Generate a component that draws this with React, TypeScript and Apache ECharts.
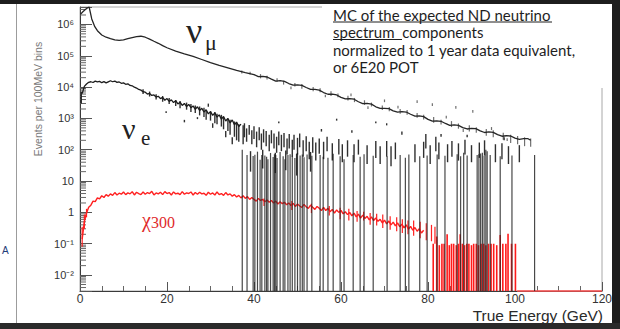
import React, { useEffect, useRef } from 'react';
import * as echarts from 'echarts';

// ---------------- axes ----------------
const X_TICKS = [0, 20, 40, 60, 80, 100, 120];
const Y_MIN = 0.0031;
const Y_MAX = 3.6e6;
const Y_DECADES = [-3, -2, -1, 0, 1, 2, 3, 4, 5, 6];
const Y_MINOR_MULT = [2, 3, 4, 5, 6, 7, 8, 9];

// ---------------- nu_mu (GeV, events) ----------------
const numuLine: [number, number][] = [
  [0.1, 2.1e6], [0.6, 2.5e6], [1.1, 2.9e6], [1.6, 3.3e6], [2.1, 3.6e6], [2.7, 1.5e6], [3.4, 8.5e5],
  [4.0, 6.3e5], [5, 4.6e5], [6, 3.9e5], [7, 3.5e5], [8, 3.2e5], [9, 3.1e5], [10, 3.2e5], [11, 3.5e5],
  [12, 3.8e5], [13, 4.1e5], [14, 4.2e5], [15, 3.9e5], [16, 3.4e5], [17, 2.9e5], [18, 2.5e5], [19, 2.1e5],
  [20, 1.8e5], [22, 1.4e5], [24, 1.15e5], [26, 9.5e4], [28, 7.6e4], [30, 6.0e4], [32, 4.9e4], [34, 4.1e4],
  [36, 3.4e4], [38, 2.9e4], [40, 2.5e4], [41, 2.15e4], [42, 2.2e4], [43, 2.1e4], [44, 1.8e4], [45, 1.55e4],
  [46, 1.6e4], [47, 1.52e4], [48, 1.3e4], [49, 1.16e4], [50, 1.18e4], [51, 1.14e4], [52, 9700], [53, 8400],
  [54, 8500], [55, 8000], [56, 6700], [57, 5900], [58, 6000], [59, 5600], [60, 4700], [61, 4200],
  [62, 4300], [63, 4100], [64, 3400], [65, 2950], [66, 3000], [67, 2850], [68, 2350], [69, 2080],
  [70, 2100], [71, 2050], [72, 1750], [73, 1580], [74, 1650], [75, 1600], [76, 1360], [77, 1190],
  [78, 1200], [79, 1140], [80, 930], [81, 820], [82, 840], [83, 810], [84, 690], [85, 600],
  [86, 620], [87, 600], [88, 510], [89, 460], [90, 480], [91, 470], [92, 400], [93, 355],
  [94, 370], [95, 360], [96, 305], [97, 270], [98, 280], [99, 275], [100, 235], [101, 215],
  [102, 225], [103, 225], [103.6, 200],
];
// error bars / scatter around the nu_mu tail: [GeV, low, high]
const numuBars: [number, number, number][] = [
  [37.2, 2.7e4, 3.4e4], [39.1, 2.5e4, 3.1e4], [41.5, 1.9e4, 2.6e4], [43.0, 1.75e4, 2.3e4], [45.3, 1.45e4, 1.9e4],
  [46.8, 1.2e4, 1.6e4], [49.4, 1.05e4, 1.35e4], [51.0, 8800, 1.25e4], [53.6, 7400, 1.0e4], [55.2, 6800, 9200],
  [57.7, 5200, 7300], [59.3, 4700, 6200], [61.6, 3700, 5300], [63.1, 3300, 4500], [65.4, 2700, 3800],
  [67.0, 2400, 3200], [69.5, 1850, 2600], [71.1, 1700, 2300], [73.6, 1400, 2000], [75.2, 1300, 1850],
  [77.5, 1050, 1500], [79.0, 920, 1300], [81.3, 730, 1120], [83.0, 640, 900], [85.4, 530, 820],
  [87.0, 470, 690], [89.5, 380, 600], [91.1, 350, 525], [93.4, 280, 460], [95.0, 250, 420],
  [97.3, 210, 350], [99.0, 165, 300], [100.6, 150, 275], [102.2, 130, 250], [103.6, 125, 230],
  [77.5, 3300, 3600], [81.0, 2650, 2900], [86.4, 2150, 2350], [90.3, 1600, 1750], [70.0, 3500, 3800],
  [48.5, 9000, 9800], [56.4, 5000, 5400], [62.3, 5400, 5900], [66.2, 2100, 2300], [73.1, 2200, 2400],
  [84.2, 1050, 1150], [88.1, 390, 430], [94.6, 450, 500], [98.2, 200, 220],
];

// ---------------- nu_e ----------------
const nueBinStart = 0.5;
const nueBinWidth = 0.5;
const nueValues = [
  6200, 10500, 12500, 14200, 14800, 14000, 15500, 14600, 15200, 13800,
  14900, 13600, 14700, 15900, 14800, 15600, 14100, 14600, 13200, 13600,
  12300, 12700, 11300, 11000, 9900, 9300, 8400, 8000, 7100, 6900,
  6000, 6300, 5400, 5600, 4800, 5100, 4300, 4700, 3800, 4300,
  3500, 3900, 3200, 3700, 2900, 3300, 2600, 3000, 2400, 2800,
  2200, 2500, 1950, 2350, 1800, 2100, 1600, 1900, 1400, 1650,
  1250, 1500, 1100, 1300, 950, 1150, 830, 1000, 720, 890,
  630, 760, 550, 660,
];
// error bars [GeV, low, high]
const nueBars: [number, number, number][] = [
  [0.3, 3000, 7000], [14.5, 6000, 8500], [16.0, 5000, 7200], [17.5, 4000, 5900], [19.0, 3400, 5200],
  [19.8, 1500, 1700], [20.5, 2900, 4500], [22.0, 2500, 3900], [23.0, 2100, 3600], [24.0, 750, 900],
  [24.5, 1900, 3200], [25.5, 1600, 2900], [26.5, 1500, 2600], [27.0, 950, 1100], [27.5, 1250, 2400],
  [28.5, 1100, 2200], [29.0, 900, 1800], [29.5, 2500, 2800], [30.0, 850, 1700], [30.5, 500, 700],
  [31.0, 700, 1600], [31.5, 650, 1400], [32.5, 550, 1300], [33.0, 450, 1100], [33.5, 250, 400],
  [34.0, 400, 1000], [34.5, 300, 900], [35.0, 150, 250], [35.5, 260, 800], [36.0, 200, 700],
  [36.5, 180, 650], [37.5, 150, 600],
  [37.8, 250, 700], [38.3, 180, 480], [38.9, 300, 620], [39.5, 150, 420], [40.0, 220, 560],
  [40.6, 120, 380], [41.2, 200, 520], [41.7, 100, 330], [42.2, 170, 450], [42.8, 130, 400],
  [43.5, 90, 300], [44.0, 160, 420], [44.6, 110, 330], [45.2, 80, 260], [45.7, 140, 380],
  [46.3, 90, 300], [46.9, 120, 340], [47.6, 70, 230], [48.1, 110, 320], [48.8, 60, 210],
  [49.2, 100, 300], [50.0, 70, 240], [50.5, 120, 330], [51.3, 60, 200], [52.0, 90, 270],
  [52.7, 50, 180], [53.5, 80, 250], [54.2, 45, 170], [55.0, 75, 230], [56.0, 50, 180],
  [56.8, 90, 260], [58.0, 45, 160], [59.5, 70, 220], [60.3, 40, 150], [61.5, 60, 200],
  [63.0, 40, 150], [64.0, 70, 210], [66.0, 35, 140], [68.0, 55, 190], [69.0, 35, 130],
  [70.5, 60, 190], [71.5, 30, 130], [72.5, 50, 170], [77.0, 40, 150], [79.0, 55, 180],
  [79.5, 110, 320], [80.5, 35, 140], [81.8, 90, 260], [82.5, 50, 170], [84.5, 40, 150],
  [85.5, 60, 190], [87.0, 45, 160], [88.5, 70, 210], [90.0, 40, 140], [91.8, 55, 170],
  [93.0, 65, 200], [95.5, 40, 150], [97.0, 50, 160], [98.5, 35, 130], [101.0, 40, 140],
  [45.7, 700, 800], [59.0, 850, 980], [68.0, 700, 800], [70.5, 600, 700], [55.5, 380, 460],
  [62.5, 350, 420], [74.0, 300, 380], [83.0, 260, 320], [89.0, 250, 300], [97.5, 200, 250],
  [39.2, 20, 90], [42.0, 25, 100], [44.9, 18, 80], [47.3, 22, 95], [49.8, 15, 75], [53.0, 20, 85],
];
// single-event bins whose error bar reaches zero: [GeV, high]
const nueLong: [number, number][] = [
  [37.3, 100], [38.4, 68], [39.8, 63], [40.2, 69], [40.8, 87], [41.4, 48], [41.8, 68], [42.5, 66],
  [43.2, 50], [43.8, 79], [44.4, 59], [45.0, 68], [45.3, 55], [46.0, 85], [46.7, 62], [47.1, 50],
  [47.8, 68], [48.3, 72], [49.4, 55], [50.0, 80], [50.6, 66], [51.5, 58], [52.2, 70], [53.3, 64],
  [55.2, 68], [55.9, 60], [57.0, 56], [58.2, 74], [59.8, 62], [60.7, 50], [62.8, 68], [64.4, 60],
  [65.3, 72], [67.4, 64], [70.6, 62], [73.6, 68], [74.8, 56], [75.6, 70], [78.1, 62], [79.8, 66],
  [82.1, 70], [83.9, 64], [86.7, 72], [87.5, 62], [88.2, 80], [89.0, 66], [91.3, 68], [91.7, 72],
  [92.1, 76], [92.5, 80], [92.9, 64], [93.3, 100], [93.6, 90], [94.3, 68], [96.6, 62], [99.3, 66],
  [104.5, 68], [42.9, 60], [44.7, 72], [48.8, 64], [51.1, 70],
];

// ---------------- chi_300 ----------------
const chiBinStart = 0.5;
const chiBinWidth = 0.5;
const chiValues = [
  0.14, 0.5, 0.95, 1.45, 1.7, 2.3, 2.2, 2.9, 2.7, 3.4,
  3.0, 3.7, 3.3, 3.9, 3.5, 4.3, 3.6, 4.1, 3.8, 4.5,
  3.7, 4.2, 3.9, 4.6, 3.6, 4.4, 4.0, 3.7, 4.5, 3.8,
  4.3, 4.0, 4.7, 3.6, 4.2, 3.9, 4.4, 3.7, 4.6, 4.0,
  4.3, 3.6, 4.5, 3.9, 4.1, 3.7, 4.6, 3.8, 4.2, 4.0,
  4.5, 3.6, 4.3, 3.8, 4.4, 3.9, 4.1, 3.5, 4.4, 3.8,
  4.2, 3.6, 4.5, 3.7, 4.0, 3.5, 4.3, 3.6, 3.9, 3.3,
  3.7, 3.1, 3.5, 2.9, 3.4, 2.8, 3.2, 2.6, 3.0, 2.6,
  2.3, 2.8, 2.4, 2.6, 2.2, 2.5, 2.1, 2.4, 2.0, 2.3,
  1.85, 2.2, 1.9, 2.1, 1.75, 2.0, 1.65, 1.95, 1.55, 1.85,
  1.6, 1.45, 1.8, 1.5, 1.35, 1.7, 1.45, 1.25, 1.55, 1.35,
  1.15, 1.45, 1.15, 1.35, 1.05, 1.25, 0.95, 1.2, 1.0, 1.15,
  0.9, 1.05, 0.85, 1.0, 0.78, 0.95, 0.72, 0.88, 0.66, 0.82,
  0.64, 0.75, 0.58, 0.72, 0.55, 0.66, 0.52, 0.6, 0.46, 0.57,
  0.43, 0.53, 0.4, 0.49, 0.37, 0.46, 0.35, 0.42, 0.32, 0.4,
  0.29, 0.36, 0.27, 0.33, 0.25, 0.3, 0.22, 0.27,
];
const chiBars: [number, number, number][] = [
  [0.5, 0.08, 0.35], [1.0, 0.3, 0.85], [1.5, 0.7, 1.3], [42.3, 1.6, 2.8], [48.7, 1.2, 2.3],
  [53.2, 0.95, 1.9], [57.3, 0.8, 1.6], [59.8, 0.6, 1.4], [61.8, 0.55, 1.3], [63.7, 0.5, 1.1],
  [65.2, 0.55, 1.05], [66.7, 0.4, 0.95], [68.2, 0.38, 0.9], [69.6, 0.32, 0.85], [71.3, 0.28, 0.75],
  [72.8, 0.25, 0.7], [74.1, 0.22, 0.6], [75.4, 0.2, 0.55], [76.7, 0.18, 0.55], [78.2, 0.15, 0.5],
  [79.6, 0.13, 0.45], [80.8, 0.12, 0.4], [81.6, 0.1, 0.35],
];
const chiTail: [number, number][] = [
  [81.2, 0.1], [82.0, 0.17], [82.6, 0.09], [83.2, 0.1], [83.7, 0.1], [84.4, 0.2], [84.9, 0.09],
  [85.4, 0.1], [85.9, 0.1], [86.5, 0.09], [87.0, 0.1], [87.4, 0.2], [87.9, 0.1], [88.4, 0.09],
  [88.9, 0.1], [89.4, 0.1], [90.0, 0.09], [90.5, 0.1], [91.1, 0.1], [91.6, 0.09], [92.2, 0.1],
  [92.8, 0.1], [93.3, 0.09], [93.9, 0.1], [94.5, 0.1], [95.1, 0.1], [95.8, 0.09], [96.6, 0.19],
  [97.2, 0.1], [97.9, 0.1], [98.4, 0.21], [99.2, 0.1], [100.1, 0.1],
];
const chiEmptyRange: [number, number] = [100.5, 120];

// ---------------- texts ----------------
const NOTE_LINES = [
  'MC of the expected ND neutrino',
  'spectrum  components',
  'normalized to 1 year data equivalent,',
  'or 6E20 POT',
];

const SUP: Record<string, string> = {
  '0': '⁰', '1': '¹', '2': '²', '3': '³', '4': '⁴', '5': '⁵', '6': '⁶', '7': '⁷', '8': '⁸', '9': '⁹', '-': '⁻',
};

function yLabel(v: number): string {
  const l = Math.log10(v);
  const e = Math.round(l);
  if (Math.abs(l - e) > 1e-6) return '';
  if (e === 0) return '1';
  if (e === 1) return '10';
  return '10' + String(e).split('').map((c) => SUP[c]).join('');
}

function segRender(color: string, width: number) {
  return (params: any, api: any) => {
    const x = api.value(0);
    const lo = Math.max(api.value(1), Y_MIN * 0.5);
    const hi = api.value(2);
    const p1 = api.coord([x, lo]);
    const p2 = api.coord([x, hi]);
    let y1 = p1[1];
    let y2 = p2[1];
    if (Math.abs(y1 - y2) < 1.6) {
      y1 += 0.8;
      y2 -= 0.8;
    }
    return {
      type: 'line',
      shape: { x1: p1[0], y1, x2: p2[0], y2 },
      style: { stroke: color, lineWidth: width },
    };
  };
}

export default function App() {
  const ref = useRef<HTMLDivElement>(null);
  useEffect(() => {
    document.body.style.margin = '0';
    const chart = echarts.init(ref.current!, undefined, { renderer: 'svg' });

    const nueLine = nueValues.map((v, i) => [nueBinStart + i * nueBinWidth, v]);
    const chiLine = chiValues.map((v, i) => [chiBinStart + i * chiBinWidth, v]);
    const minorTicks: number[][] = [];
    Y_DECADES.forEach((d) => Y_MINOR_MULT.forEach((m) => minorTicks.push([0, m * Math.pow(10, d)])));

    const NOTE_X = 333;
    const noteTexts = NOTE_LINES.map((t, i) => ({
      type: 'text',
      z: 110,
      x: NOTE_X,
      y: 15 + i * 17.3,
      style: {
        text: t,
        font: '15px Lato',
        fill: '#1e1e1e',
        textAlign: 'left',
        textVerticalAlign: 'middle',
      },
    }));

    const option: any = {
      animation: false,
      backgroundColor: '#ffffff',
      grid: {
        left: 80,
        right: 18,
        top: 7,
        bottom: 38,
        show: true,
        borderColor: '#a8a8a8',
        borderWidth: 1,
        containLabel: false,
      },
      xAxis: {
        type: 'value',
        min: X_TICKS[0],
        max: X_TICKS[X_TICKS.length - 1],
        interval: 20,
        axisLine: { show: true, lineStyle: { color: '#3a3a3a', width: 1 } },
        axisTick: { show: true, inside: true, length: 9, lineStyle: { color: '#555' } },
        minorTick: { show: true, splitNumber: 4, length: 5, lineStyle: { color: '#666' } },
        splitLine: { show: false },
        axisLabel: {
          fontFamily: 'Liberation Sans',
          fontSize: 12,
          color: '#333',
          margin: 2,
        },
      },
      yAxis: {
        type: 'log',
        logBase: 10,
        min: Y_MIN,
        max: Y_MAX,
        axisLine: { show: true, lineStyle: { color: '#3a3a3a', width: 1 } },
        axisTick: { show: true, inside: true, length: 12, lineStyle: { color: '#555' } },
        splitLine: { show: false },
        axisLabel: {
          fontFamily: 'Liberation Sans',
          fontSize: 11,
          color: '#333',
          margin: 6,
          formatter: yLabel,
        },
      },
      graphic: [
        { type: 'rect', z: 100, shape: { x: 322, y: 0, width: 290, height: 88 }, style: { fill: '#ffffff' } },
        { type: 'rect', z: 120, shape: { x: 0, y: 0, width: 620, height: 4 }, style: { fill: '#1d1d1d' } },
        { type: 'rect', z: 120, shape: { x: 612, y: 0, width: 8, height: 329 }, style: { fill: '#1d1d1d' } },
        { type: 'rect', z: 120, shape: { x: 0, y: 323, width: 620, height: 6 }, style: { fill: '#2a2a2a' } },
        { type: 'line', z: 120, shape: { x1: 16.5, y1: 4, x2: 16.5, y2: 323 }, style: { stroke: '#9c9c9c', lineWidth: 1 } },
        {
          type: 'text', z: 120, x: 2, y: 250,
          style: { text: 'A', font: '10px Liberation Sans', fill: '#1f3c78', textVerticalAlign: 'middle' },
        },
        ...noteTexts,
        { type: 'line', z: 110, shape: { x1: NOTE_X, y1: 22, x2: 552, y2: 22 }, style: { stroke: '#1e1e1e', lineWidth: 1 } },
        { type: 'line', z: 110, shape: { x1: NOTE_X, y1: 39.5, x2: 402, y2: 39.5 }, style: { stroke: '#1e1e1e', lineWidth: 1 } },
        {
          type: 'text', z: 110, x: 186, y: 31,
          style: { text: 'ν', font: '36px Liberation Serif', fill: '#222', textVerticalAlign: 'middle' },
        },
        {
          type: 'text', z: 110, x: 205, y: 42,
          style: { text: 'μ', font: '22px Liberation Serif', fill: '#222', textVerticalAlign: 'middle' },
        },
        {
          type: 'text', z: 110, x: 122, y: 128,
          style: { text: 'ν', font: '30px Liberation Serif', fill: '#222', textVerticalAlign: 'middle' },
        },
        {
          type: 'text', z: 110, x: 141, y: 138,
          style: { text: 'e', font: '21px Liberation Serif', fill: '#222', textVerticalAlign: 'middle' },
        },
        {
          type: 'text', z: 110, x: 142, y: 220,
          style: { text: 'χ', font: '20px Liberation Serif', fill: '#e02a2a', textVerticalAlign: 'middle' },
        },
        {
          type: 'text', z: 110, x: 151, y: 222,
          style: { text: '300', font: '16px Liberation Serif', fill: '#e02a2a', textVerticalAlign: 'middle' },
        },
        {
          type: 'text', z: 110, x: 603, y: 315,
          style: { text: 'True Energy (GeV)', font: '15.5px Liberation Sans', fill: '#2a2a2a', textAlign: 'right', textVerticalAlign: 'middle' },
        },
        {
          type: 'text', z: 110, x: 38, y: 99, rotation: Math.PI / 2,
          style: { text: 'Events per 100MeV bins', font: '10.5px Liberation Sans', fill: '#7a7a7a', textAlign: 'center', textVerticalAlign: 'middle' },
        },
      ],
      series: [
        {
          type: 'custom',
          name: 'yMinorTicks',
          silent: true,
          clip: true,
          z: 3,
          data: minorTicks,
          renderItem: (params: any, api: any) => {
            const p = api.coord([api.value(0), api.value(1)]);
            return {
              type: 'line',
              shape: { x1: p[0], y1: p[1], x2: p[0] + 6, y2: p[1] },
              style: { stroke: '#666', lineWidth: 1 },
            };
          },
        },
        {
          type: 'line',
          name: 'chi300',
          data: chiLine,
          showSymbol: false,
          clip: true,
          z: 4,
          lineStyle: { color: '#ff2020', width: 1.4 },
        },
        {
          type: 'custom',
          name: 'chiBars',
          clip: true,
          z: 4,
          data: chiBars,
          renderItem: segRender('#ff2020', 1.2),
        },
        {
          type: 'custom',
          name: 'chiTail',
          clip: true,
          z: 4,
          data: chiTail.map(([e, h]) => [e, 0, h]),
          renderItem: segRender('#ff1a1a', 1.6),
        },
        {
          type: 'line',
          name: 'chiEmpty',
          data: [[chiEmptyRange[0], Y_MIN], [chiEmptyRange[1], Y_MIN]],
          showSymbol: false,
          clip: false,
          z: 4,
          lineStyle: { color: '#ff5050', width: 1.5 },
        },
        {
          type: 'custom',
          name: 'nueLong',
          clip: true,
          z: 5,
          data: nueLong.map(([e, h]) => [e, 0, h]),
          renderItem: segRender('rgba(40,40,40,0.85)', 1.2),
        },
        {
          type: 'custom',
          name: 'nueBars',
          clip: true,
          z: 5,
          data: nueBars,
          renderItem: segRender('rgba(25,25,25,0.9)', 1.4),
        },
        {
          type: 'line',
          name: 'nue',
          data: nueLine,
          showSymbol: false,
          clip: true,
          z: 5,
          lineStyle: { color: '#1c1c1c', width: 1.3 },
        },
        {
          type: 'custom',
          name: 'numuBars',
          clip: true,
          z: 5,
          data: numuBars,
          renderItem: segRender('rgba(50,50,50,0.7)', 1.2),
        },
        {
          type: 'line',
          name: 'numu',
          data: numuLine,
          showSymbol: false,
          clip: true,
          z: 5,
          lineStyle: { color: '#262626', width: 1.3 },
        },
      ],
    };
    chart.setOption(option);
    return () => chart.dispose();
  }, []);
  return <div ref={ref} style={{ position: 'fixed', left: 0, top: 0, width: 620, height: 329 }} />;
}
